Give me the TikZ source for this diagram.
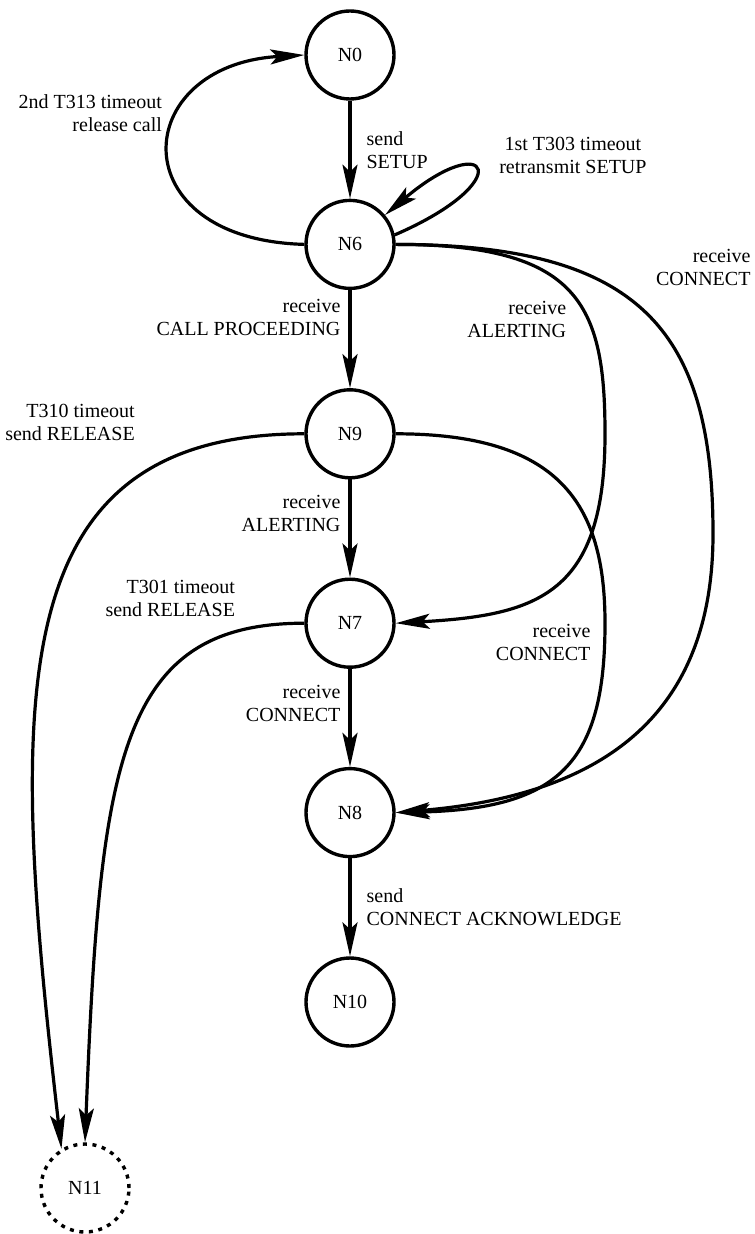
\documentclass[tikz,border=0pt]{standalone}
\usepackage{fontspec}
\setmainfont{Liberation Serif}
\usetikzlibrary{positioning, arrows.meta}

\begin{document}
\begin{tikzpicture}[
  font=\fontsize{10pt}{11.5pt}\selectfont,
  node distance=49pt,
  state/.style={
    circle, draw=black, line width=1.7pt, minimum size=44pt, inner sep=0pt
  },
  trans/.style={-{Stealth[length=17pt, width=7.5pt, inset=3.5pt]}, line width=1.6pt},
  lbl/.style={inner sep=0pt},
  lblL/.style={lbl, anchor=east, align=right, xshift=-4pt},
  lblR/.style={lbl, anchor=west, align=left, xshift=7.5pt}
]
\useasboundingbox (0,0) rectangle (377pt,-617pt);

% ================ states ================
\node[state] (N0) at (175pt,-27.5pt) {N0};
\node[state, below=of N0] (N6) {N6};
\node[state, below=of N6] (N9) {N9};
\node[state, below=of N9] (N7) {N7};
\node[state, below=of N7] (N8) {N8};
\node[state, below=of N8] (N10) {N10};
\node[state, dash pattern=on 2pt off 2.8pt] (N11)
  at ([xshift=-132.5pt, yshift=-93pt]N10) {N11};

% bend points of the long arcs on the right
\coordinate[right=127.5pt of N9.center] (alertBend);
\coordinate[right=127.5pt of N7.center] (connBend);
\coordinate[below right=50pt and 181.5pt of N9.center] (farBend);

% ================ main chain ================
\draw[trans] (N0) -- node[lblR] {send\\SETUP} (N6);
\draw[trans] (N6) -- node[lblL, pos=.28] {receive\\CALL PROCEEDING} (N9);
\draw[trans] (N9) -- node[lblL, pos=.35] {receive\\ALERTING} (N7);
\draw[trans] (N7) -- node[lblL, pos=.35] {receive\\CONNECT} (N8);
\draw[trans] (N8) -- node[lblR] {send\\CONNECT ACKNOWLEDGE} (N10);

% ================ timers around N6 ================
\draw[trans] (N6.west) .. controls +(-92.5pt,2.5pt) and +(-87.5pt,-5pt) .. (N0.west)
  node[lbl, pos=.65, anchor=east, align=right, xshift=-9.5pt, yshift=-1pt]
  {2nd T313 timeout\\release call};
\draw[trans] (N6.12) .. controls +(62.5pt,27pt) and +(52pt,44pt) .. (N6.40)
  node[lbl, pos=.5, anchor=west, align=center, xshift=11pt, yshift=8pt]
  {1st T303 timeout\\retransmit SETUP};

% ================ shortcuts on the right ================
\draw[trans] (N6.east) .. controls +(91.5pt,0pt) and +(0pt,65pt) .. (alertBend)
  node[lbl, pos=.65, anchor=east, align=right, xshift=-11pt, yshift=1.5pt]
  {receive\\ALERTING}
  .. controls +(0pt,-80pt) and +(71.5pt,4pt) .. (N7.east);
\draw[trans] (N6.east) .. controls +(121.5pt,0pt) and +(0pt,102.5pt) .. (farBend)
  node[lbl, pos=.5, anchor=west, align=right, xshift=4.5pt, yshift=22.5pt]
  {receive\\CONNECT}
  .. controls +(0pt,-92.5pt) and +(101.5pt,8.5pt) .. (N8.east);
\draw[trans] (N9.east) .. controls +(81.5pt,0pt) and +(0pt,60pt) .. (connBend)
  node[lbl, pos=1, anchor=east, align=right, xshift=-6.5pt, yshift=-9.5pt]
  {receive\\CONNECT}
  .. controls +(0pt,-70pt) and +(81.5pt,2pt) .. (N8.east);

% ================ release on the left ================
\draw[trans] (N9.west) .. controls +(-152.5pt,0pt) and +(-26pt,225pt) .. (N11.121)
  node[lbl, pos=.25, anchor=east, align=right, xshift=3pt, yshift=30pt]
  {T310 timeout\\send RELEASE};
\draw[trans] (N7.west) .. controls +(-92.5pt,0pt) and +(7.5pt,191.5pt) .. (N11.north)
  node[lbl, pos=.1, anchor=east, align=right, xshift=-8.5pt, yshift=14.5pt]
  {T301 timeout\\send RELEASE};
\end{tikzpicture}
\end{document}
